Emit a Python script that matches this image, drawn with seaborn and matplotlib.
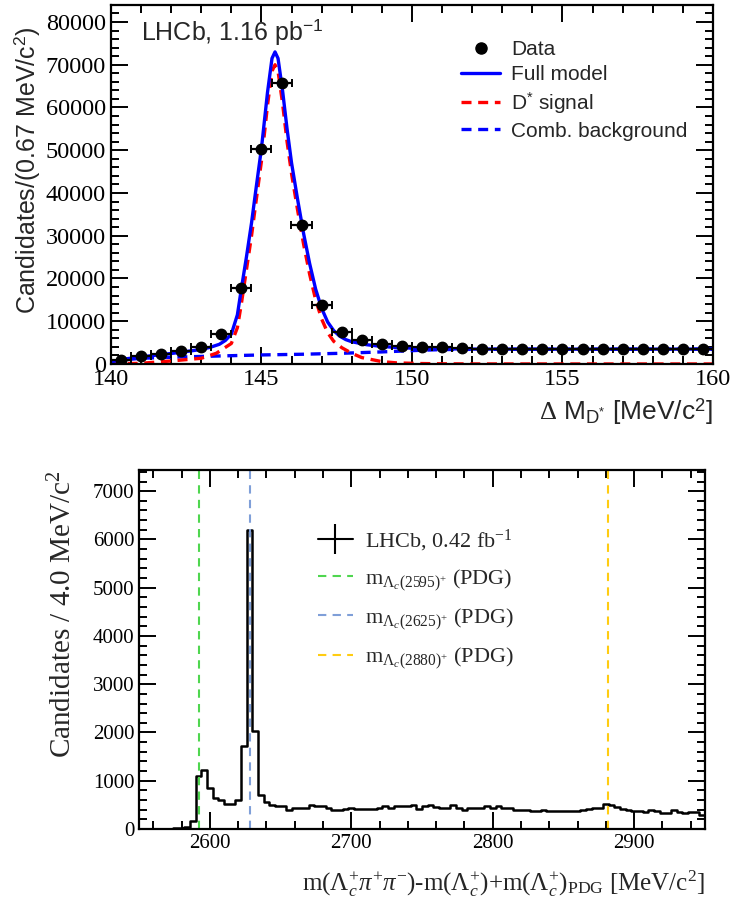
import matplotlib
matplotlib.use("Agg")
import matplotlib.pyplot as plt
from matplotlib.lines import Line2D
from matplotlib.ticker import MultipleLocator
import numpy as np
import pandas as pd
import seaborn as sns

# ---- top panel: D*+ -> D0 pi+ delta-mass fit ----
dm_centres = [140.33, 141.00, 141.67, 142.33, 143.00, 143.67, 144.33, 145.00, 145.67, 146.33,
              147.00, 147.67, 148.33, 149.00, 149.67, 150.33, 151.00, 151.67, 152.33, 153.00,
              153.67, 154.33, 155.00, 155.67, 156.33, 157.00, 157.67, 158.33, 159.00, 159.67]
dm_counts = [1000, 1800, 2300, 3000, 4000, 6900, 17800, 50300, 65700, 32600,
             13700, 7400, 5600, 4600, 4200, 4000, 3900, 3750, 3500, 3450,
             3450, 3400, 3450, 3400, 3450, 3400, 3450, 3400, 3400, 3450]
half_bin = 0.333

full_x = [140.0, 140.5, 141.0, 141.5, 142.0, 142.5, 143.0, 143.3, 143.6, 143.8, 144.0, 144.2, 144.33,
          144.5, 144.67, 144.8, 145.0, 145.2, 145.35, 145.45, 145.55, 145.7, 145.85, 146.0, 146.2,
          146.4, 146.6, 146.8, 147.0, 147.2, 147.4, 147.6, 147.8, 148.0, 148.5, 149.0, 149.5, 150.0,
          151.0, 152.0, 154.0, 156.0, 158.0, 160.0]
full_y = [500, 1200, 1650, 2050, 2450, 2900, 3400, 3900, 4600, 5500, 7000, 11500, 17500,
          25000, 33000, 40000, 50500, 63500, 71500, 73000, 71500, 64000, 55000, 47000, 38500,
          30500, 23500, 17500, 13000, 9800, 7800, 6500, 5700, 5200, 4500, 4100, 3850, 3700,
          3550, 3480, 3460, 3460, 3470, 3480]

sig_x = [140.0, 141.0, 142.0, 143.0, 143.5, 144.0, 144.2, 144.33, 144.5, 144.67, 144.8, 145.0,
         145.2, 145.35, 145.45, 145.55, 145.7, 145.85, 146.0, 146.2, 146.4, 146.6, 146.8, 147.0,
         147.2, 147.4, 147.67, 148.0, 148.33, 149.0, 149.5, 150.3, 151.0, 152.0, 155.0, 160.0]
sig_y = [0, 160, 700, 1330, 2500, 4800, 8500, 14000, 22000, 30000, 37000, 47500,
         60500, 68500, 70000, 68500, 61000, 52000, 44500, 36000, 28000, 21000, 15000, 10500,
         7300, 5300, 3800, 2500, 1500, 550, 250, 100, 40, 10, 0, 0]

bkg_x = [140.0, 140.5, 141.0, 142.33, 143.67, 145.0, 146.33, 147.67, 149.0, 150.33, 151.0,
         152.0, 154.0, 156.0, 158.0, 160.0]
bkg_y = [450, 1000, 1330, 1640, 1880, 2110, 2270, 2500, 2820, 3210, 3360,
         3420, 3440, 3450, 3460, 3470]

# ---- bottom panel: Lambda_c+ pi+ pi- spectrum, 4 MeV bins ----
hist_lo, hist_hi, hist_w = 2550, 2950, 4
lc_counts = [0, 0, 0, 2, 5,
             10, 15, 25, 45, 165, 1100, 1215, 855, 650, 595, 525, 525, 595, 1720, 6200, 2030, 700, 560,
             490, 467, 467, 400, 430, 445, 445, 490, 467, 467, 445, 400, 400, 420, 445, 420, 410, 410,
             410, 430, 467, 445, 480, 467, 467,
             500, 420, 480, 490, 460, 430, 430, 500, 430, 400, 445, 445, 445, 467, 430, 467, 445, 430,
             400, 400, 400, 380, 380, 400, 380, 370, 370,
             380, 370, 380, 400, 420, 445, 445, 515, 500, 460, 420, 400, 380, 370, 360, 400, 380, 340,
             340, 400, 360, 340, 360, 360, 300]
pdg_masses = [2592.25, 2628.11, 2881.63]
pdg_labels = [r"m$_{\Lambda_{c}(2595)^{+}}$ (PDG)",
              r"m$_{\Lambda_{c}(2625)^{+}}$ (PDG)",
              r"m$_{\Lambda_{c}(2880)^{+}}$ (PDG)"]
pdg_colors = ["#4fd64f", "#7f9fd8", "#ffcc11"]

sns.set_theme(style="ticks")
plt.rcParams['font.family'] = ['Liberation Serif', 'DejaVu Serif']
plt.rcParams['mathtext.fontset'] = 'custom'
plt.rcParams['mathtext.rm'] = 'Liberation Serif'
plt.rcParams['mathtext.it'] = 'Liberation Serif:italic'
plt.rcParams['mathtext.sf'] = 'Liberation Sans'
plt.rcParams['axes.linewidth'] = 1.6

fig = plt.figure(figsize=(7.32, 9.09), dpi=100)
ax1 = fig.add_axes([0.1516, 0.5996, 0.8224, 0.395])
ax2 = fig.add_axes([0.190, 0.088, 0.773, 0.395])


def root_ticks(ax, size):
	ax.tick_params(which='both', direction='in', top=True, right=True, labelsize=size, width=1.4, colors='black')
	ax.tick_params(which='major', length=12)
	ax.tick_params(which='minor', length=6)
	for s in ax.spines.values():
		s.set_color('black')


# top panel
counts = np.asarray(dm_counts, dtype=float)
ax1.errorbar(dm_centres, counts, xerr=half_bin, yerr=np.sqrt(counts), fmt='o', color='black',
             ms=7.5, elinewidth=1.6, capsize=3, capthick=1.4, zorder=5)
sns.lineplot(x=bkg_x, y=bkg_y, ax=ax1, color='#0000ff', lw=2.4, linestyle=(0, (3, 2)), sort=False, estimator=None)
sns.lineplot(x=sig_x, y=sig_y, ax=ax1, color='#ff0000', lw=2.4, linestyle=(0, (3, 2)), sort=False, estimator=None)
sns.lineplot(x=full_x, y=full_y, ax=ax1, color='#0000ff', lw=2.4, sort=False, estimator=None)
ax1.set_xlim(140, 160)
ax1.set_ylim(0, 84000)
ax1.xaxis.set_major_locator(MultipleLocator(5))
ax1.xaxis.set_minor_locator(MultipleLocator(1))
ax1.yaxis.set_major_locator(MultipleLocator(10000))
ax1.yaxis.set_minor_locator(MultipleLocator(2000))
root_ticks(ax1, 17.5)
ax1.set_ylabel(r"Candidates/(0.67 MeV/c$^{\mathsf{2}}$)", family='Liberation Sans', fontsize=18)
ax1.yaxis.set_label_coords(-0.115, 0.54)
ax1.set_xlabel(r"$\Delta$ M$_{\mathsf{D^{*}}}$ [MeV/c$^{\mathsf{2}}$]", family='Liberation Sans', fontsize=19)
ax1.xaxis.set_label_coords(1.0, -0.09)
ax1.xaxis.label.set_horizontalalignment('right')
ax1.text(0.05, 0.965, r"LHCb, 1.16 pb$^{\mathsf{-1}}$", transform=ax1.transAxes, family='Liberation Sans',
         fontsize=18, va='top', ha='left')
h_top = [Line2D([], [], marker='o', color='black', ls='none', ms=8),
         Line2D([], [], color='#0000ff', lw=2.4),
         Line2D([], [], color='#ff0000', lw=2.4, ls=(0, (3, 2))),
         Line2D([], [], color='#0000ff', lw=2.4, ls=(0, (3, 2)))]
l_top = ["Data", "Full model", r"D$^{\mathsf{*}}$ signal", "Comb. background"]
ax1.legend(h_top, l_top, loc='upper left', bbox_to_anchor=(0.55, 0.955), frameon=False,
           prop={'family': 'Liberation Sans', 'size': 15}, handlelength=1.9, labelspacing=0.3,
           handletextpad=0.5)

# bottom panel
centres = [hist_lo + hist_w / 2 + hist_w * i for i in range(len(lc_counts))]
df = pd.DataFrame({'mass': centres, 'n': lc_counts})
sns.histplot(data=df, x='mass', weights='n', binwidth=hist_w, binrange=(hist_lo, hist_hi),
             element='step', fill=False, color='black', linewidth=1.8, ax=ax2)
for m, c in zip(pdg_masses, pdg_colors):
	ax2.axvline(m, color=c, lw=1.5, ls=(0, (4, 3)))
ax2.set_xlim(hist_lo, hist_hi)
ax2.set_ylim(0, 7440)
ax2.xaxis.set_major_locator(MultipleLocator(100))
ax2.xaxis.set_minor_locator(MultipleLocator(20))
ax2.yaxis.set_major_locator(MultipleLocator(1000))
ax2.yaxis.set_minor_locator(MultipleLocator(200))
root_ticks(ax2, 15)
ax2.set_ylabel(r"Candidates / 4.0 MeV/c$^{2}$", fontsize=21)
ax2.yaxis.set_label_coords(-0.11, 1.0)
ax2.yaxis.label.set_horizontalalignment('right')
ax2.set_xlabel(r"m($\Lambda_{c}^{+}\pi^{+}\pi^{-}$)-m($\Lambda_{c}^{+}$)+m($\Lambda_{c}^{+}$)$_{\mathrm{PDG}}$ [MeV/c$^{2}$]",
               fontsize=18)
ax2.xaxis.set_label_coords(1.0, -0.11)
ax2.xaxis.label.set_horizontalalignment('right')
h_bot = [Line2D([], [], color='black', lw=1.5, marker='|', ms=22, mew=1.5)]
h_bot += [Line2D([], [], color=c, lw=1.5, ls=(0, (4, 3))) for c in pdg_colors]
l_bot = [r"LHCb, 0.42 fb$^{-1}$"] + pdg_labels
ax2.legend(h_bot, l_bot, loc='upper left', bbox_to_anchor=(0.28, 0.895), frameon=False,
           prop={'size': 16}, handlelength=1.6, labelspacing=0.6, handletextpad=0.55)

fig.savefig("out.png", dpi=100)
